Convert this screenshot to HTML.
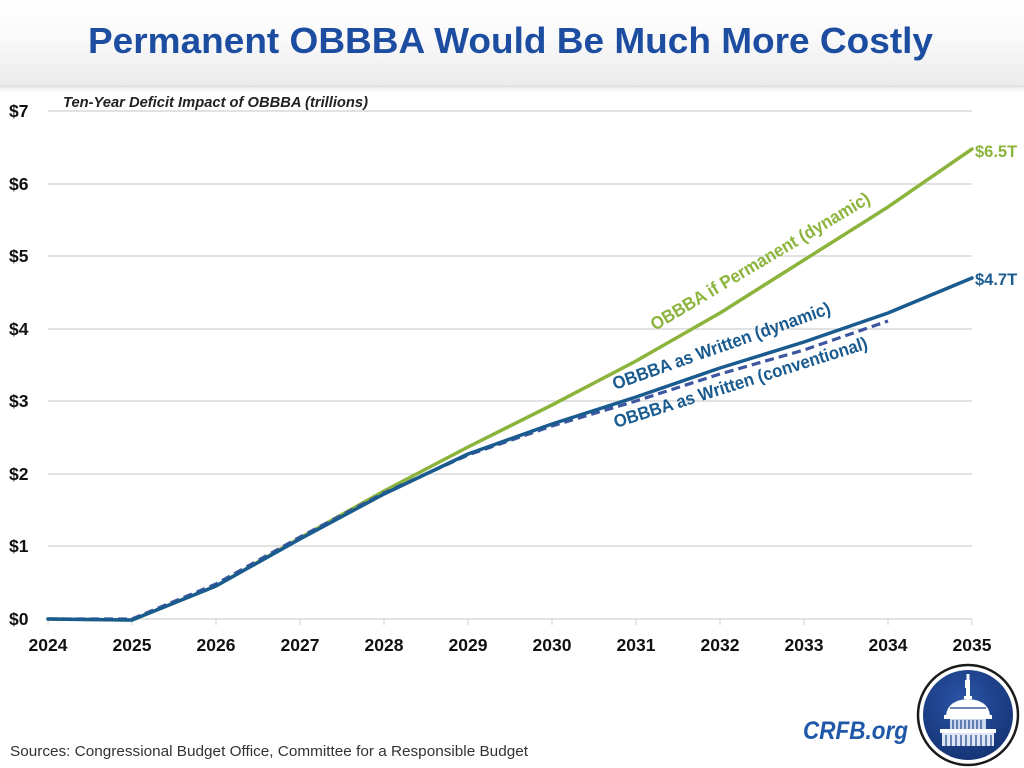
<!DOCTYPE html>
<html>
<head>
<meta charset="utf-8">
<style>
html,body{margin:0;padding:0;background:#fff;}
svg{display:block;}
</style>
</head>
<body>
<svg width="1024" height="768" viewBox="0 0 1024 768" xmlns="http://www.w3.org/2000/svg">
  <defs>
    <linearGradient id="hdr" x1="0" y1="0" x2="0" y2="1">
      <stop offset="0" stop-color="#ffffff"/>
      <stop offset="0.45" stop-color="#f9f9f9"/>
      <stop offset="1" stop-color="#ebebeb"/>
    </linearGradient>
    <linearGradient id="shadow" x1="0" y1="0" x2="0" y2="1">
      <stop offset="0" stop-color="#e6e6e6"/>
      <stop offset="1" stop-color="#ffffff"/>
    </linearGradient>
    <radialGradient id="seal" cx="0.45" cy="0.35" r="0.75">
      <stop offset="0" stop-color="#2a55a8"/>
      <stop offset="1" stop-color="#13306f"/>
    </radialGradient>
  </defs>

  <!-- header -->
  <rect x="0" y="0" width="1024" height="86" fill="url(#hdr)"/>
  <rect x="0" y="86" width="1024" height="6" fill="url(#shadow)"/>
  <line x1="0" y1="86" x2="1024" y2="86" stroke="#dcdcdc" stroke-width="1"/>
  <text x="88" y="53" font-family="Liberation Sans, sans-serif" font-weight="bold" font-size="36" fill="#1c4da1" textLength="845" lengthAdjust="spacingAndGlyphs">Permanent OBBBA Would Be Much More Costly</text>

  <!-- subtitle -->
  <text x="63" y="107" font-family="Liberation Sans, sans-serif" font-weight="bold" font-style="italic" font-size="15" fill="#222" textLength="305" lengthAdjust="spacingAndGlyphs">Ten-Year Deficit Impact of OBBBA (trillions)</text>

  <!-- gridlines -->
  <g stroke="#d9d9d9" stroke-width="1.5">
    <line x1="48" y1="111" x2="972" y2="111"/>
    <line x1="48" y1="184" x2="972" y2="184"/>
    <line x1="48" y1="256" x2="972" y2="256"/>
    <line x1="48" y1="329" x2="972" y2="329"/>
    <line x1="48" y1="401" x2="972" y2="401"/>
    <line x1="48" y1="474" x2="972" y2="474"/>
    <line x1="48" y1="546" x2="972" y2="546"/>
    <line x1="48" y1="619" x2="972" y2="619"/>
  </g>
  <g stroke="#d9d9d9" stroke-width="1.2">
    <line x1="48" y1="619" x2="48" y2="625"/>
    <line x1="132" y1="619" x2="132" y2="625"/>
    <line x1="216" y1="619" x2="216" y2="625"/>
    <line x1="300" y1="619" x2="300" y2="625"/>
    <line x1="384" y1="619" x2="384" y2="625"/>
    <line x1="468" y1="619" x2="468" y2="625"/>
    <line x1="552" y1="619" x2="552" y2="625"/>
    <line x1="636" y1="619" x2="636" y2="625"/>
    <line x1="720" y1="619" x2="720" y2="625"/>
    <line x1="804" y1="619" x2="804" y2="625"/>
    <line x1="888" y1="619" x2="888" y2="625"/>
    <line x1="972" y1="619" x2="972" y2="625"/>
  </g>

  <!-- y labels -->
  <g font-family="Liberation Sans, sans-serif" font-weight="bold" font-size="17.5" fill="#111">
    <text x="9" y="117">$7</text>
    <text x="9" y="190">$6</text>
    <text x="9" y="262">$5</text>
    <text x="9" y="335">$4</text>
    <text x="9" y="407">$3</text>
    <text x="9" y="480">$2</text>
    <text x="9" y="552">$1</text>
    <text x="9" y="625">$0</text>
  </g>

  <!-- x labels -->
  <g font-family="Liberation Sans, sans-serif" font-weight="bold" font-size="17.5" fill="#111" text-anchor="middle">
    <text x="48" y="651">2024</text>
    <text x="132" y="651">2025</text>
    <text x="216" y="651">2026</text>
    <text x="300" y="651">2027</text>
    <text x="384" y="651">2028</text>
    <text x="468" y="651">2029</text>
    <text x="552" y="651">2030</text>
    <text x="636" y="651">2031</text>
    <text x="720" y="651">2032</text>
    <text x="804" y="651">2033</text>
    <text x="888" y="651">2034</text>
    <text x="972" y="651">2035</text>
  </g>

  <!-- series -->
  <polyline fill="none" stroke="#8cb43c" stroke-width="3.5" stroke-linejoin="round" stroke-linecap="round"
    points="48,619 132,620 216,586 300,538 384,491 468,447 552,405 636,361 720,313 804,260 888,207 972,149"/>
  <polyline fill="none" stroke="#3d56a0" stroke-width="3.2" stroke-dasharray="9,5"
    points="48,619 132,619 216,584 300,537 384,493 468,455 552,426 636,401 720,374 804,350 888,321"/>
  <polyline fill="none" stroke="#1a5b8f" stroke-width="3.5" stroke-linejoin="round" stroke-linecap="round"
    points="48,619 132,620 216,586 300,539 384,494 468,454 552,424 636,397 720,368 804,342 888,313 972,278"/>

  <!-- end labels -->
  <text x="975" y="157" font-family="Liberation Sans, sans-serif" font-weight="bold" font-size="16.5" fill="#8cb43c">$6.5T</text>
  <text x="975" y="285" font-family="Liberation Sans, sans-serif" font-weight="bold" font-size="16.5" fill="#1a5b8f">$4.7T</text>

  <!-- series labels -->
  <text transform="translate(655,331) rotate(-30.8)" font-family="Liberation Sans, sans-serif" font-weight="bold" font-size="18" fill="#8cb43c" textLength="252" lengthAdjust="spacingAndGlyphs">OBBBA if Permanent (dynamic)</text>
  <text transform="translate(615,390) rotate(-19.5)" font-family="Liberation Sans, sans-serif" font-weight="bold" font-size="18" fill="#1a5b8f" textLength="230" lengthAdjust="spacingAndGlyphs">OBBBA as Written (dynamic)</text>
  <text transform="translate(616,428) rotate(-17.5)" font-family="Liberation Sans, sans-serif" font-weight="bold" font-size="18" fill="#1a5b8f" textLength="265" lengthAdjust="spacingAndGlyphs">OBBBA as Written (conventional)</text>

  <!-- sources -->
  <text x="10" y="756" font-family="Liberation Sans, sans-serif" font-size="15" fill="#333" textLength="518" lengthAdjust="spacingAndGlyphs">Sources: Congressional Budget Office, Committee for a Responsible Budget</text>

  <!-- CRFB.org -->
  <text x="803" y="739" font-family="Liberation Sans, sans-serif" font-weight="bold" font-style="italic" font-size="25" fill="#1f58a8" textLength="105" lengthAdjust="spacingAndGlyphs">CRFB.org</text>

  <!-- logo -->
  <circle cx="968" cy="715" r="50" fill="#fff" stroke="#1a1a1a" stroke-width="2.5"/>
  <circle cx="968" cy="715" r="45" fill="url(#seal)"/>
  <g fill="#ffffff">
    <!-- statue / spire -->
    <rect x="966.5" y="674" width="3" height="6"/>
    <rect x="965" y="680" width="5" height="8"/>
    <rect x="966" y="688" width="4" height="8"/>
    <rect x="964" y="696" width="8" height="3"/>
    <!-- dome -->
    <path d="M946,715 Q948,700 968,699 Q988,700 990,715 Z"/>
    <rect x="944" y="715" width="48" height="4"/>
    <rect x="950" y="719" width="36" height="10" fill="#c9d6ee"/>
    <rect x="940" y="729" width="56" height="4"/>
    <rect x="942" y="733" width="52" height="13" fill="#dfe6f5"/>
  </g>
  <g stroke="#1d3f8a" stroke-width="1.2">
    <line x1="953" y1="720" x2="953" y2="729"/>
    <line x1="957" y1="720" x2="957" y2="729"/>
    <line x1="961" y1="720" x2="961" y2="729"/>
    <line x1="965" y1="720" x2="965" y2="729"/>
    <line x1="969" y1="720" x2="969" y2="729"/>
    <line x1="973" y1="720" x2="973" y2="729"/>
    <line x1="977" y1="720" x2="977" y2="729"/>
    <line x1="981" y1="720" x2="981" y2="729"/>
    <line x1="946" y1="735" x2="946" y2="746"/>
    <line x1="951" y1="735" x2="951" y2="746"/>
    <line x1="956" y1="735" x2="956" y2="746"/>
    <line x1="961" y1="735" x2="961" y2="746"/>
    <line x1="966" y1="735" x2="966" y2="746"/>
    <line x1="971" y1="735" x2="971" y2="746"/>
    <line x1="976" y1="735" x2="976" y2="746"/>
    <line x1="981" y1="735" x2="981" y2="746"/>
    <line x1="986" y1="735" x2="986" y2="746"/>
    <line x1="991" y1="735" x2="991" y2="746"/>
    <line x1="950" y1="708" x2="986" y2="708"/>
  </g>
</svg>
</body>
</html>
